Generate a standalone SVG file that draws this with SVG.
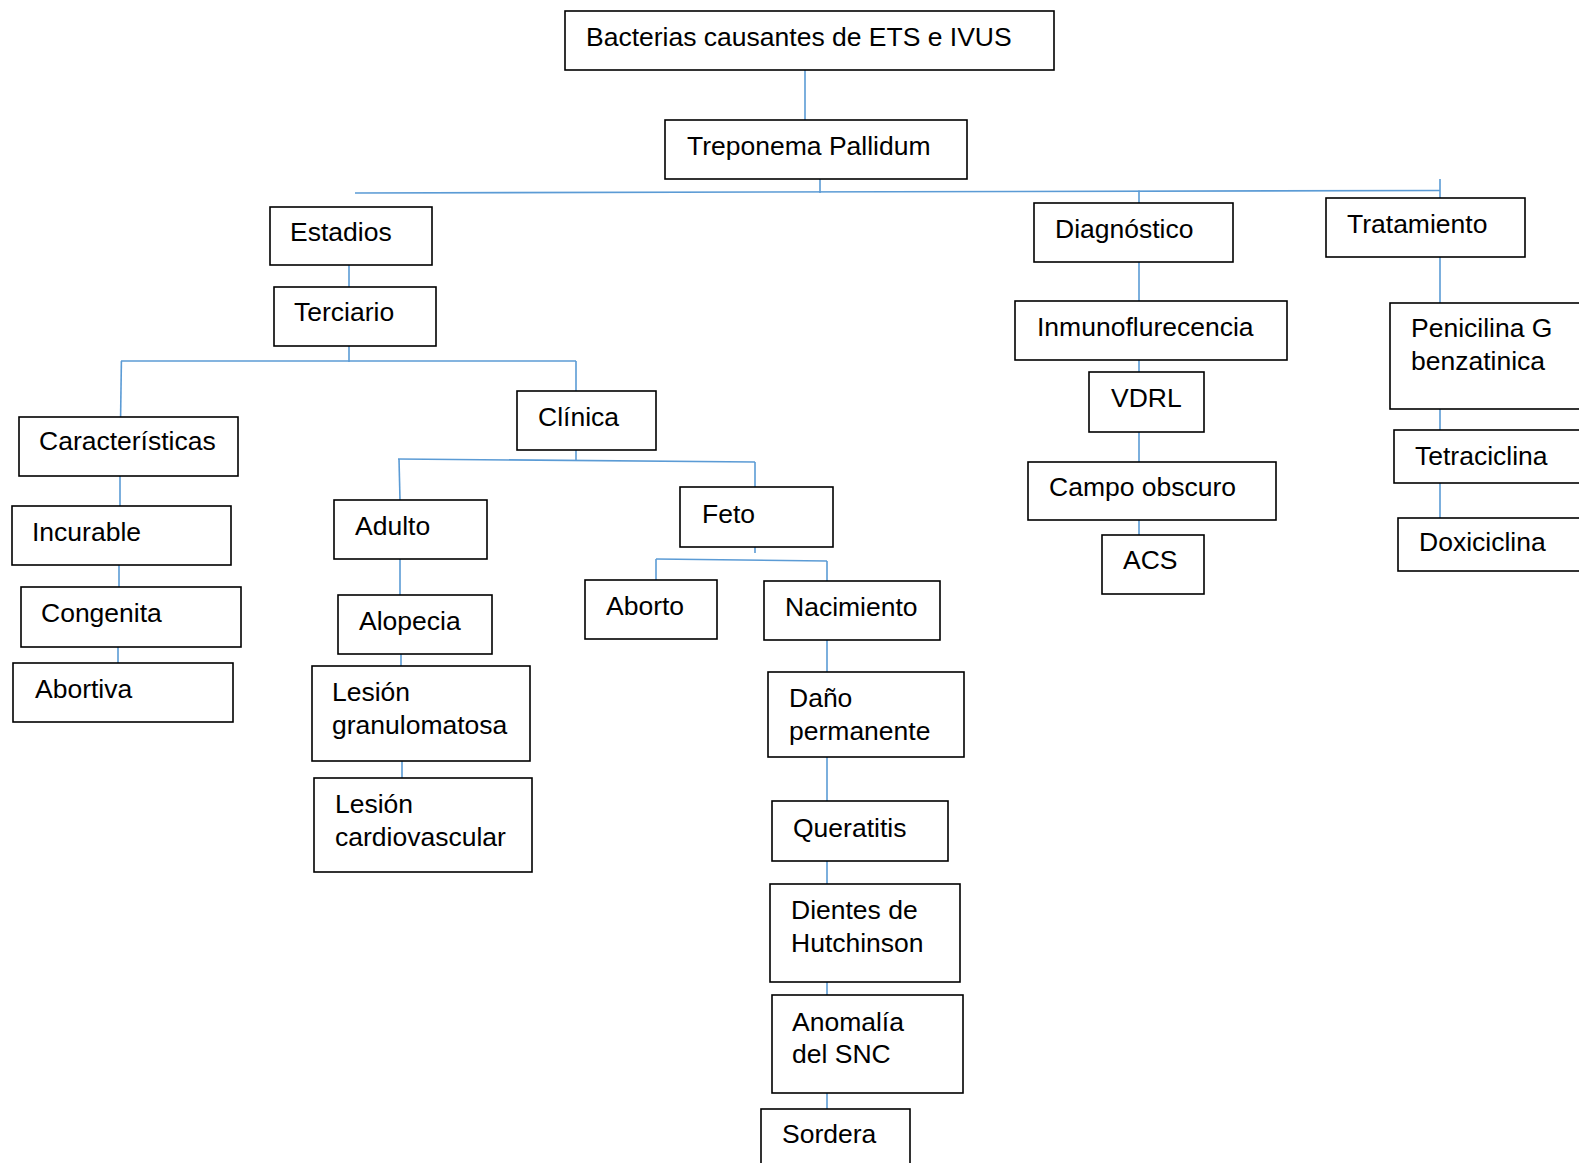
<svg xmlns="http://www.w3.org/2000/svg" width="1579" height="1163" viewBox="0 0 1579 1163">
<style>
.n rect{fill:#fff;stroke:#000;stroke-width:1.6}
.n text{font-family:"Liberation Sans",Arial,sans-serif;font-size:26.5px;fill:#000}
#connectors path{fill:none;stroke:#5b9bd5;stroke-width:1.6}
</style>
<rect width="1579" height="1163" fill="#fff"/>
<g id="connectors">
<path d="M805 70V120"/>
<path d="M820 179V193"/>
<path d="M355 193L1440 190.5"/>
<path d="M1139 190.5V203"/>
<path d="M1440 179V198"/>
<path d="M349 265V287"/>
<path d="M349 346V362"/>
<path d="M121 361H576"/>
<path d="M121.4 361L120.6 417"/>
<path d="M576 361V391"/>
<path d="M120 476V506"/>
<path d="M119 565V587"/>
<path d="M118 647V663"/>
<path d="M576 450V460"/>
<path d="M398 459L755 462"/>
<path d="M399 459L400 500"/>
<path d="M755 462V487"/>
<path d="M400 559V595"/>
<path d="M401 654V666"/>
<path d="M402 761V778"/>
<path d="M755 547V553"/>
<path d="M656 559L827 561"/>
<path d="M656 559V580"/>
<path d="M827 561V581"/>
<path d="M827 640V672"/>
<path d="M827 757V801"/>
<path d="M827 861V884"/>
<path d="M827 982V995"/>
<path d="M827 1093V1109"/>
<path d="M1139 262V301"/>
<path d="M1139 360V372"/>
<path d="M1139 432V462"/>
<path d="M1139 520V535"/>
<path d="M1440 257V303"/>
<path d="M1440 409V430"/>
<path d="M1440 483V518"/>
</g>
<g id="bacterias" class="n"><rect x="565" y="11" width="489" height="59"/><text x="586" y="46">Bacterias causantes de ETS e IVUS</text></g>
<g id="treponema" class="n"><rect x="665" y="120" width="302" height="59"/><text x="687" y="155">Treponema Pallidum</text></g>
<g id="estadios" class="n"><rect x="270" y="207" width="162" height="58"/><text x="290" y="241">Estadios</text></g>
<g id="terciario" class="n"><rect x="274" y="287" width="162" height="59"/><text x="294" y="321">Terciario</text></g>
<g id="caracteristicas" class="n"><rect x="19" y="417" width="219" height="59"/><text x="39" y="450">Características</text></g>
<g id="clinica" class="n"><rect x="517" y="391" width="139" height="59"/><text x="538" y="426">Clínica</text></g>
<g id="incurable" class="n"><rect x="12" y="506" width="219" height="59"/><text x="32" y="541">Incurable</text></g>
<g id="congenita" class="n"><rect x="21" y="587" width="220" height="60"/><text x="41" y="622">Congenita</text></g>
<g id="abortiva" class="n"><rect x="13" y="663" width="220" height="59"/><text x="35" y="698">Abortiva</text></g>
<g id="adulto" class="n"><rect x="334" y="500" width="153" height="59"/><text x="355" y="535">Adulto</text></g>
<g id="alopecia" class="n"><rect x="338" y="595" width="154" height="59"/><text x="359" y="630">Alopecia</text></g>
<g id="lesion-granulomatosa" class="n"><rect x="312" y="666" width="218" height="95"/><text x="332" y="701">Lesión</text><text x="332" y="734">granulomatosa</text></g>
<g id="lesion-cardiovascular" class="n"><rect x="314" y="778" width="218" height="94"/><text x="335" y="813">Lesión</text><text x="335" y="846">cardiovascular</text></g>
<g id="feto" class="n"><rect x="680" y="487" width="153" height="60"/><text x="702" y="523">Feto</text></g>
<g id="aborto" class="n"><rect x="585" y="580" width="132" height="59"/><text x="606" y="615">Aborto</text></g>
<g id="nacimiento" class="n"><rect x="764" y="581" width="176" height="59"/><text x="785" y="616">Nacimiento</text></g>
<g id="dano" class="n"><rect x="768" y="672" width="196" height="85"/><text x="789" y="707">Daño</text><text x="789" y="740">permanente</text></g>
<g id="queratitis" class="n"><rect x="772" y="801" width="176" height="60"/><text x="793" y="837">Queratitis</text></g>
<g id="dientes" class="n"><rect x="770" y="884" width="190" height="98"/><text x="791" y="919">Dientes de</text><text x="791" y="952">Hutchinson</text></g>
<g id="anomalia" class="n"><rect x="772" y="995" width="191" height="98"/><text x="792" y="1031">Anomalía</text><text x="792" y="1063">del SNC</text></g>
<g id="sordera" class="n"><rect x="761" y="1109" width="149" height="70"/><text x="782" y="1143">Sordera</text></g>
<g id="diagnostico" class="n"><rect x="1034" y="203" width="199" height="59"/><text x="1055" y="238">Diagnóstico</text></g>
<g id="inmuno" class="n"><rect x="1015" y="301" width="272" height="59"/><text x="1037" y="336">Inmunoflurecencia</text></g>
<g id="vdrl" class="n"><rect x="1089" y="372" width="115" height="60"/><text x="1111" y="407">VDRL</text></g>
<g id="campo" class="n"><rect x="1028" y="462" width="248" height="58"/><text x="1049" y="496">Campo obscuro</text></g>
<g id="acs" class="n"><rect x="1102" y="535" width="102" height="59"/><text x="1123" y="569">ACS</text></g>
<g id="tratamiento" class="n"><rect x="1326" y="198" width="199" height="59"/><text x="1347" y="233">Tratamiento</text></g>
<g id="penicilina" class="n"><rect x="1390" y="303" width="200" height="106"/><text x="1411" y="337">Penicilina G</text><text x="1411" y="370">benzatinica</text></g>
<g id="tetraciclina" class="n"><rect x="1394" y="430" width="196" height="53"/><text x="1415" y="465">Tetraciclina</text></g>
<g id="doxiciclina" class="n"><rect x="1398" y="518" width="192" height="53"/><text x="1419" y="551">Doxiciclina</text></g>
</svg>
